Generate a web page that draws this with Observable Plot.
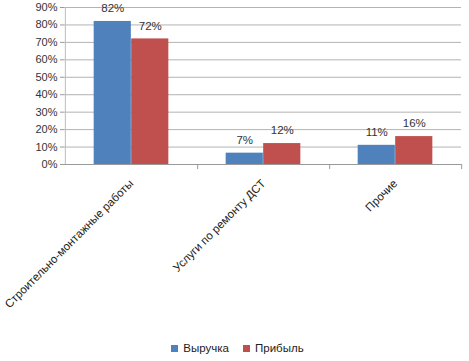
<!DOCTYPE html>
<html>
<head>
<meta charset="utf-8">
<script src="https://cdn.jsdelivr.net/npm/d3@7"></script>
<script src="https://cdn.jsdelivr.net/npm/@observablehq/plot@0.6"></script>
<style>
  body { margin: 0; background: #fff; font-family: "Liberation Sans", Arial, sans-serif; }
  #chart { width: 469px; height: 361px; position: relative; }
  .legend { display: flex; justify-content: center; align-items: center; gap: 14px; font-size: 11.5px; color: #222; height: 26px; padding-left: 6px; }
  .legend span.sw { display: inline-block; width: 7px; height: 7px; margin-right: 5px; }
  .legend .item { display: flex; align-items: center; }
</style>
</head>
<body>
<div id="chart"></div>
<script>
const categories = ["Строительно-монтажные работы", "Услуги по ремонту ДСТ", "Прочие"];
const revenue = [0.82, 0.065, 0.11];
const profit = [0.72, 0.12, 0.16];
const seriesNames = ["Выручка", "Прибыль"];
const colors = ["#4f81bd", "#c0504d"];
const yTicks = [0, 0.1, 0.2, 0.3, 0.4, 0.5, 0.6, 0.7, 0.8, 0.9];

const rev = categories.map((c, i) => ({cat: c, v: revenue[i]}));
const prof = categories.map((c, i) => ({cat: c, v: profit[i]}));

const W = 469, H = 335;
const mL = 64, mR = 8, mT = 7, mB = 171;
const band = (W - mL - mR) / categories.length;
const barW = 37.5;
const outer = (band - 2 * barW) / 2;

const fmt = d3.format(".0%");

const chart = Plot.plot({
  width: W, height: H,
  marginLeft: mL, marginRight: mR, marginTop: mT, marginBottom: mB,
  style: {fontFamily: "Liberation Sans, Arial, sans-serif", fontSize: "11px", color: "#333", background: "#fff", overflow: "visible"},
  x: {domain: categories, padding: 0, label: null},
  y: {domain: [0, 0.9], label: null},
  marks: [
    Plot.gridY(yTicks, {stroke: "#b3b3b3", strokeOpacity: 1}),
    Plot.axisY(yTicks, {tickFormat: fmt, tickSize: 4, tickPadding: 3, stroke: "#999", fontSize: 11, fill: "#333"}),
    Plot.axisX({tickSize: 0, tickRotate: -45, tickPadding: 17, fontSize: 11.5, fill: "#222", label: null}),
    Plot.axisX({tickSize: 5, tickFormat: () => "", dx: band / 2, stroke: "#999", label: null}),
    Plot.ruleX([categories[0]], {dx: -band / 2, stroke: "#bbb"}),
    Plot.barY(rev, {x: "cat", y: "v", fill: colors[0], insetLeft: outer, insetRight: outer + barW}),
    Plot.barY(prof, {x: "cat", y: "v", fill: colors[1], insetLeft: outer + barW, insetRight: outer}),
    Plot.ruleY([0], {stroke: "#999"}),
    Plot.text(rev, {x: "cat", y: "v", text: d => fmt(d.v), dx: -barW / 2, dy: -13, fill: "#333", fontSize: 11.5}),
    Plot.text(prof, {x: "cat", y: "v", text: d => fmt(d.v), dx: barW / 2, dy: -13, fill: "#333", fontSize: 11.5})
  ]
});

const root = document.getElementById("chart");
root.appendChild(chart);
const legend = document.createElement("div");
legend.className = "legend";
seriesNames.forEach((n, i) => {
  const it = document.createElement("div");
  it.className = "item";
  const sw = document.createElement("span");
  sw.className = "sw";
  sw.style.background = colors[i];
  it.appendChild(sw);
  it.appendChild(document.createTextNode(n));
  legend.appendChild(it);
});
root.appendChild(legend);
</script>
</body>
</html>
